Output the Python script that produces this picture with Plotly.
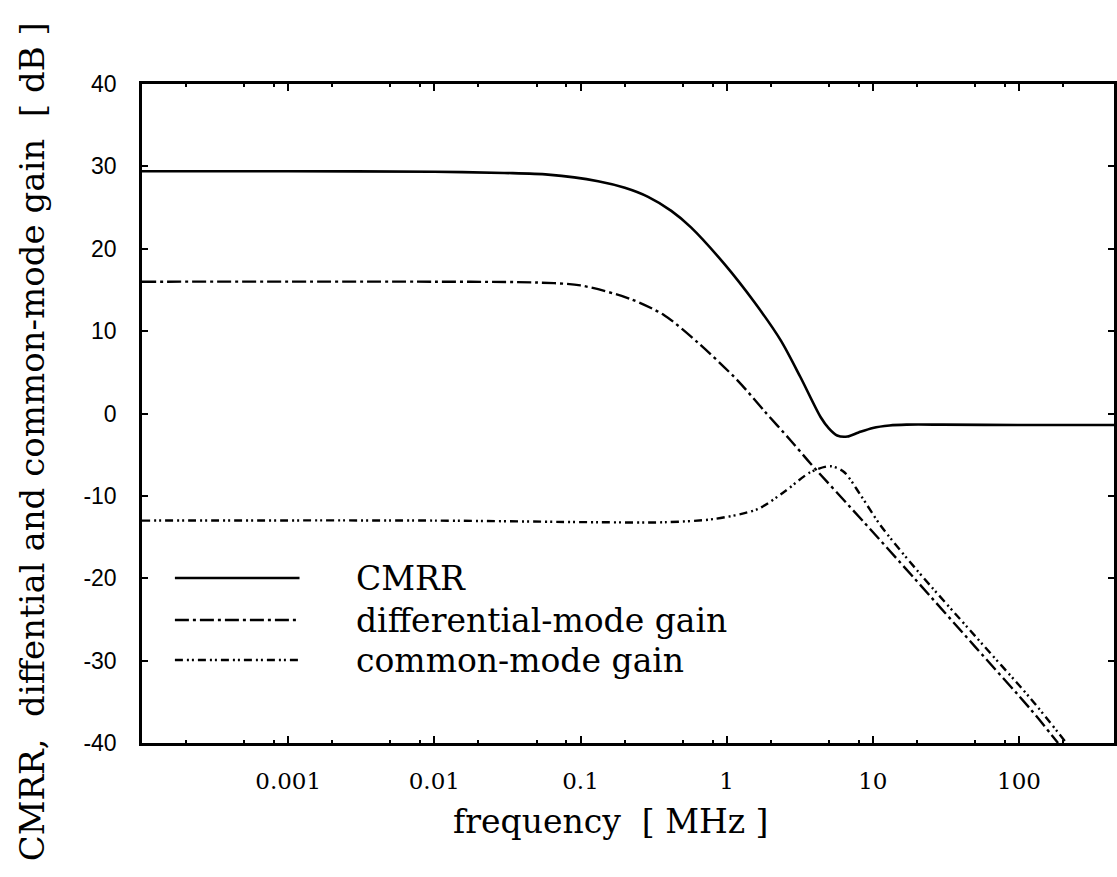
import plotly.graph_objects as go

# ---- data ----
freq_cmrr = [0.0001, 0.001, 0.01, 0.03, 0.06, 0.132, 0.201, 0.29, 0.418, 0.57, 0.97, 1.55,
             2.35, 3.2, 4.4, 5.0, 5.7, 6.7, 8.0, 10, 13, 17, 30, 100, 447]
cmrr = [29.4, 29.4, 29.35, 29.2, 29.0, 28.2, 27.4, 26.3, 24.6, 22.6, 18.1, 13.5,
        8.85, 4.4, -0.45, -1.8, -2.67, -2.8, -2.3, -1.75, -1.45, -1.35, -1.35, -1.4, -1.4]

freq_diff = [0.0001, 0.01, 0.05, 0.1, 0.22, 0.376, 0.636, 1.19, 1.81, 2.75, 3.76,
             8.7, 19, 50, 120, 185]
diff_gain = [16.0, 16.0, 15.9, 15.55, 13.9, 11.9, 8.6, 4.0, 0.3, -3.3, -6.1,
             -13.2, -19.9, -28.3, -35.9, -40.0]

freq_cm = [0.0001, 0.01, 0.132, 0.376, 0.826, 1.63, 2.48, 3.76, 5.14, 6.35, 8.24, 11.3,
           20, 50, 120, 211]
cm_gain = [-13.0, -13.0, -13.2, -13.2, -12.8, -11.6, -9.5, -7.1, -6.4, -7.1, -9.9, -13.6,
           -19.0, -27.0, -34.6, -40.0]

x_tickvals = [0.001, 0.01, 0.1, 1, 10, 100]
x_ticktext = ["0.001", "0.01", "0.1", "1", "10", "100"]
y_tickvals = [40, 30, 20, 10, 0, -10, -20, -30, -40]
y_ticktext = ["40", "30", "20", "10", "0", "-10", "-20", "-30", "-40"]
minor_mult = [2, 5, 8]
decades = [0.0001, 0.001, 0.01, 0.1, 1, 10, 100]

series_names = ["CMRR", "differential-mode gain", "common-mode gain"]
dashes = ["solid", "14px,4px,3px,4px", "8px,4px,2px,3px,2px,4px"]

minor_vals = [d * m for d in decades for m in minor_mult if d * m < 450]

fig = go.Figure()
fig.add_trace(go.Scatter(x=freq_cmrr, y=cmrr, mode="lines", name=series_names[0],
                         line=dict(color="black", width=2.6, dash=dashes[0], shape="spline", smoothing=0.8)))
fig.add_trace(go.Scatter(x=freq_diff, y=diff_gain, mode="lines", name=series_names[1],
                         line=dict(color="black", width=2.4, dash=dashes[1], shape="spline", smoothing=0.8)))
fig.add_trace(go.Scatter(x=freq_cm, y=cm_gain, mode="lines", name=series_names[2],
                         line=dict(color="black", width=2.4, dash=dashes[2], shape="spline", smoothing=0.8)))

W, H = 1117, 877
L, R, T, B = 142, 0, 84, 134
pw, ph = W - L - R, H - T - B

def px(xp):
    return (xp - L) / pw

def py(yp):
    return (H - B - yp) / ph

# manual legend
leg_y = [578, 620, 660]
for i in range(3):
    fig.add_shape(type="line", xref="paper", yref="paper",
                  x0=px(175), x1=px(300), y0=py(leg_y[i]), y1=py(leg_y[i]),
                  line=dict(color="black", width=2.6 if i == 0 else 2.4, dash=dashes[i]))
    fig.add_annotation(xref="paper", yref="paper", x=px(355), y=py(leg_y[i]),
                       text=series_names[i], showarrow=False, xanchor="left", yanchor="middle",
                       font=dict(family="DejaVu Serif", size=33, color="black"))

# axis titles
fig.add_annotation(xref="paper", yref="paper", x=px(612), y=py(821),
                   text="frequency\u00a0\u00a0[\u00a0MHz\u00a0]", showarrow=False,
                   xanchor="center", yanchor="middle",
                   font=dict(family="DejaVu Serif", size=33, color="black"))
fig.add_annotation(xref="paper", yref="paper", x=px(32), y=py(442),
                   text="CMRR,\u00a0\u00a0diffential and common-mode gain\u00a0\u00a0[\u00a0dB\u00a0]",
                   showarrow=False, textangle=-90, xanchor="center", yanchor="middle",
                   font=dict(family="DejaVu Serif", size=34, color="black"))

fig.update_layout(
    width=W, height=H,
    margin=dict(l=L, r=R, t=T, b=B),
    paper_bgcolor="white", plot_bgcolor="white",
    showlegend=False,
    xaxis=dict(type="log", range=[-4, 2.65], tickmode="array", tickvals=x_tickvals,
               ticktext=x_ticktext, ticks="inside", ticklen=7, tickwidth=2, tickcolor="black",
               showline=True, linecolor="black", linewidth=2.5, mirror="ticks",
               showgrid=False, zeroline=False, ticklabelstandoff=16,
               tickfont=dict(family="DejaVu Serif", size=23, color="black"),
               minor=dict(tickmode="array", tickvals=minor_vals, ticks="inside", ticklen=3,
                          tickwidth=2, tickcolor="black", showgrid=False)),
    yaxis=dict(range=[-40, 40], tickmode="array", tickvals=y_tickvals, ticktext=y_ticktext,
               ticks="inside", ticklen=6, tickwidth=2, tickcolor="black",
               showline=True, linecolor="black", linewidth=2.5, mirror="ticks",
               showgrid=False, zeroline=False, ticklabelstandoff=18,
               tickfont=dict(family="Liberation Sans", size=23, color="black")),
)

fig.write_html("out.html")
